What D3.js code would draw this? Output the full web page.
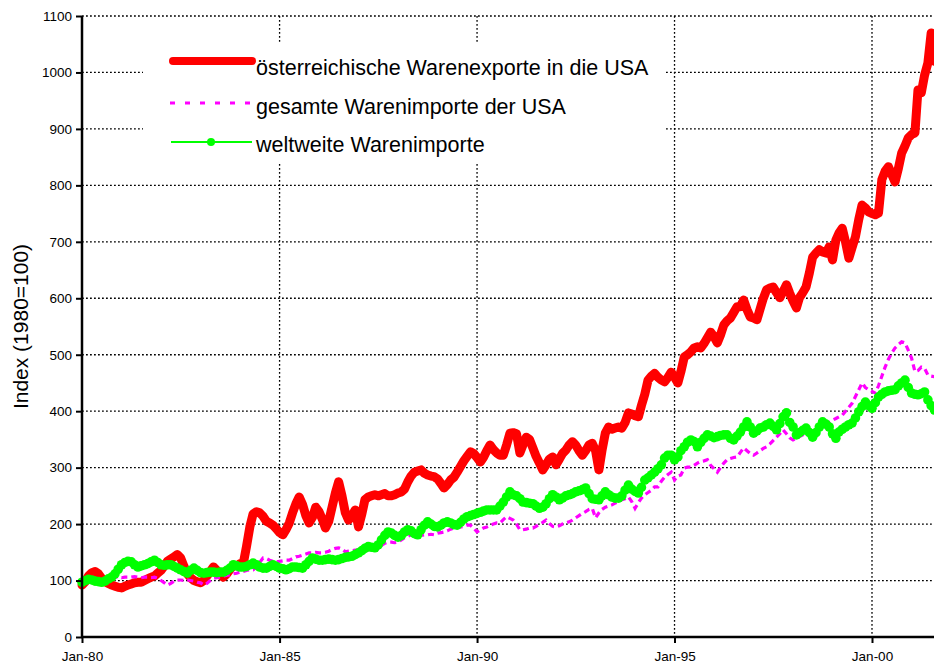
<!DOCTYPE html>
<html>
<head>
<meta charset="utf-8">
<script src="https://cdn.jsdelivr.net/npm/d3@7"></script>
<style>
    body { margin: 0; background: #fff; }
    svg text { font-family: "Liberation Sans", Arial, sans-serif; fill: #000; }
    .grid line { stroke: #000; stroke-width: 1.3; stroke-dasharray: 1.8, 2.2; }
</style>
</head>
<body>
<div id="chart-container"></div>
<script>
// Monatswerte ab Jan-80, Index 1980=100
const startMonth = new Date(1980, 0, 1);

const exportsAT = [
    92, 98, 108, 114, 116, 112, 104, 98, 95, 92, 90, 88,
    87, 90, 92, 94, 96, 97, 97, 100, 103, 106, 108, 113,
    118, 126, 134, 138, 142, 146, 140, 125, 112, 105, 100, 98,
    96, 100, 108, 116, 124, 118, 110, 106, 112, 120, 127, 126,
    130, 131, 160, 195, 218, 222, 220, 214, 205, 202, 198, 192,
    185, 181, 190, 202, 220, 236, 248, 235, 215, 202, 212, 230,
    222, 208, 193, 205, 230, 255, 275, 250, 220, 207, 215, 225,
    195, 218, 243, 248, 250, 252, 250, 252, 254, 250, 250, 252,
    255, 257, 262, 275, 285, 292, 294, 296, 290, 287, 285, 284,
    280, 272, 264, 270, 278, 283, 292, 302, 312, 320, 328, 325,
    318, 310, 318, 330, 340, 332, 326, 322, 322, 340, 361, 362,
    360, 326, 340, 354, 350, 335, 320, 308, 296, 305, 315, 319,
    305, 315, 325, 331, 340, 346, 340, 330, 322, 330, 340, 343,
    330, 296, 330, 361, 372, 368, 370, 372, 370, 380, 397, 395,
    392, 390, 410, 430, 455, 462, 467, 460, 455, 452, 460, 469,
    460, 450, 470, 496, 500, 505, 512, 514, 512, 520, 530, 540,
    532, 521, 535, 553, 560, 565, 575, 585, 585, 597, 580, 567,
    565, 562, 580, 600, 615, 618, 620, 610, 601, 612, 624, 609,
    595, 583, 601, 610, 620, 645, 673, 680, 686, 682, 680, 691,
    668, 703, 715, 724, 700, 671, 690, 709, 740, 765, 760, 753,
    750, 748, 751, 810, 825, 833, 820, 806, 830, 857, 870, 884,
    890, 893, 969, 964, 995, 1017, 1070, 1020
];

const importsUSA = [
    100, 101, 103, 104, 104, 103, 102, 103, 104, 105, 106, 106,
    105, 106, 106, 106, 107, 106, 105, 106, 106, 105, 106, 104,
    100, 96, 92, 95, 99, 101, 101, 100, 101, 100, 99, 97,
    96, 92, 95, 100, 104, 105, 106, 108, 109, 110, 112, 113,
    115, 116, 118, 119, 119, 124, 132, 140, 139, 136, 134, 133,
    134, 135, 136, 136, 139, 142, 143, 145, 147, 149, 149, 150,
    149, 149, 150, 152, 155, 157, 158, 156, 151, 152, 153, 154,
    154, 154, 155, 154, 154, 154, 156, 162, 166, 168, 168, 167,
    168, 172, 176, 178, 181, 181, 181, 180, 181, 181, 182, 181,
    184, 185, 186, 188, 191, 193, 194, 195, 196, 198, 198, 193,
    186, 190, 193, 195, 198, 200, 202, 202, 208, 213, 210, 207,
    200, 190, 190, 191, 193, 193, 196, 200, 203, 207, 201, 196,
    195, 197, 200, 202, 204, 207, 211, 215, 219, 222, 226, 228,
    211, 220, 226, 230, 232, 234, 237, 240, 243, 245, 248, 240,
    228, 238, 246, 252, 256, 260, 266, 266, 276, 283, 288, 292,
    278, 285, 287, 299, 301, 301, 304, 308, 311, 312, 314, 304,
    298, 292, 300, 308, 314, 316, 318, 319, 327, 335, 330, 325,
    322, 326, 330, 334, 337, 342, 348, 354, 360, 367, 360, 353,
    349, 352, 355, 358, 362, 364, 367, 369, 371, 372, 375, 380,
    384, 387, 390, 393, 400, 407, 414, 426, 438, 450, 442, 438,
    435, 432, 445, 462, 478, 492, 503, 512, 518, 523, 521, 508,
    494, 470, 472, 478, 476, 464, 462, 461
];

const importsWorld = [
    97, 100, 102, 101, 99, 98, 97, 99, 103, 106, 112, 120,
    128, 132, 134, 133, 128, 124, 126, 128, 130, 133, 136, 132,
    128, 127, 128, 128, 125, 122, 119, 116, 113, 118, 122, 118,
    114, 113, 114, 115, 115, 114, 115, 115, 118, 122, 128, 126,
    124, 124, 125, 128, 131, 128, 124, 122, 122, 125, 128, 125,
    122, 121, 119, 121, 124, 124, 123, 122, 128, 134, 140, 138,
    136, 136, 137, 138, 137, 136, 137, 139, 141, 142, 143, 146,
    149, 153, 157, 160, 159, 158, 163, 172, 180, 186, 184, 180,
    177, 180, 186, 190, 188, 183, 181, 190, 198, 204, 200, 196,
    195, 198, 202, 204, 202, 199, 198, 203, 209, 213, 215, 217,
    219, 221, 223, 225, 225, 225, 225, 232, 239, 248, 257, 252,
    250, 245, 239, 238, 237, 236, 232, 228, 230, 236, 245, 252,
    248, 243, 246, 250, 252, 254, 257, 259, 261, 264, 254, 245,
    244, 243, 250, 257, 252, 248, 246, 246, 250, 260, 269, 262,
    258, 255, 265, 278, 282, 287, 292, 298, 305, 317, 322, 322,
    314, 319, 330, 337, 345, 349, 346, 337, 345, 352, 358, 356,
    353, 355, 357, 358, 358, 352, 349, 356, 363, 372, 381, 372,
    361, 365, 370, 372, 376, 379, 373, 367, 378, 390, 397, 380,
    372, 358, 362, 366, 370, 362, 354, 362, 372, 381, 377, 372,
    360, 352, 363, 368, 372, 376, 379, 388, 399, 408, 416, 410,
    405, 415, 425, 430, 434, 436, 437, 438, 445, 450, 455, 442,
    432, 430, 429, 431, 434, 420, 410, 402
];

const yTicks = [0, 100, 200, 300, 400, 500, 600, 700, 800, 900, 1000, 1100];
const xTickYears = [1980, 1985, 1990, 1995, 2000];
const legendLabels = [
    "österreichische Warenexporte in die USA",
    "gesamte Warenimporte der USA",
    "weltweite Warenimporte"
];
const seriesColors = ["#ff0000", "#ff00ff", "#00ff00"];

const width = 934;
const height = 666;
const margin = { top: 16, right: 0, bottom: 29, left: 82 };

const svg = d3.select("#chart-container").append("svg")
    .attr("width", width)
    .attr("height", height);

// x: Jan-80 .. Jan-00 fix, Rest läuft rechts raus
const x = d3.scaleTime()
    .domain([new Date(1980, 0, 1), new Date(2000, 0, 1)])
    .range([margin.left, 872]);

const y = d3.scaleLinear()
    .domain([0, 1100])
    .range([height - margin.bottom, margin.top]);

const toPoints = arr => arr.map((v, i) => ({ date: d3.timeMonth.offset(startMonth, i), value: v }));
const series = [exportsAT, importsUSA, importsWorld].map(toPoints);

// grid
const grid = svg.append("g").attr("class", "grid");
grid.selectAll(".h")
    .data(yTicks.filter(d => d > 0))
    .enter().append("line")
    .attr("x1", margin.left).attr("x2", width)
    .attr("y1", d => y(d)).attr("y2", d => y(d));
grid.selectAll(".v")
    .data(xTickYears.filter(d => d > 1980))
    .enter().append("line")
    .attr("x1", d => x(new Date(d, 0, 1))).attr("x2", d => x(new Date(d, 0, 1)))
    .attr("y1", y(1100)).attr("y2", y(0));

// legend background hides the grid
svg.append("rect")
    .attr("x", 143).attr("y", 43)
    .attr("width", 522).attr("height", 121)
    .attr("fill", "#fff");

const line = d3.line()
    .x(d => x(d.date))
    .y(d => y(d.value));

svg.append("path")
    .datum(series[0])
    .attr("fill", "none")
    .attr("stroke", seriesColors[0])
    .attr("stroke-width", 9)
    .attr("stroke-linejoin", "round")
    .attr("stroke-linecap", "round")
    .attr("d", line);

svg.append("path")
    .datum(series[1])
    .attr("fill", "none")
    .attr("stroke", seriesColors[1])
    .attr("stroke-width", 3.2)
    .attr("stroke-dasharray", "6,4")
    .attr("d", line);

svg.append("path")
    .datum(series[2])
    .attr("fill", "none")
    .attr("stroke", seriesColors[2])
    .attr("stroke-width", 2)
    .attr("d", line);

svg.append("g")
    .selectAll("circle")
    .data(series[2])
    .enter().append("circle")
    .attr("cx", d => x(d.date))
    .attr("cy", d => y(d.value))
    .attr("r", 4.8)
    .attr("fill", seriesColors[2]);

// axes
const yAxis = d3.axisLeft(y)
    .tickValues(yTicks)
    .tickFormat(d3.format("d"))
    .tickSize(6)
    .tickPadding(4);
const gy = svg.append("g")
    .attr("transform", `translate(${margin.left},0)`)
    .call(yAxis);
gy.select(".domain").remove();
gy.selectAll("line").attr("stroke", "#000").attr("stroke-width", 2);
gy.selectAll("text").style("font-size", "13.5px");
svg.append("line")
    .attr("x1", margin.left).attr("x2", margin.left)
    .attr("y1", y(1100)).attr("y2", y(0) + 1)
    .attr("stroke", "#000").attr("stroke-width", 2.5);

const xAxis = d3.axisBottom(x)
    .tickValues(xTickYears.map(d => new Date(d, 0, 1)))
    .tickFormat(d3.timeFormat("%b-%y"))
    .tickSize(6)
    .tickPadding(8);
const gx = svg.append("g")
    .attr("transform", `translate(0,${y(0)})`)
    .call(xAxis);
gx.select(".domain").remove();
gx.selectAll("line").attr("stroke", "#000").attr("stroke-width", 2);
gx.selectAll("text").style("font-size", "13.5px");
svg.append("line")
    .attr("x1", margin.left - 1).attr("x2", width)
    .attr("y1", y(0)).attr("y2", y(0))
    .attr("stroke", "#000").attr("stroke-width", 2.5);

svg.append("text")
    .attr("transform", `translate(28,${(y(0) + y(1100)) / 2}) rotate(-90)`)
    .attr("text-anchor", "middle")
    .style("font-size", "21px")
    .text("Index (1980=100)");

// legend
const legendRows = [
    { lineY: 61, textY: 75 },
    { lineY: 103, textY: 114 },
    { lineY: 142, textY: 152 }
];
const legend = svg.append("g");
legend.append("line")
    .attr("x1", 173).attr("x2", 252)
    .attr("y1", legendRows[0].lineY).attr("y2", legendRows[0].lineY)
    .attr("stroke", seriesColors[0]).attr("stroke-width", 8)
    .attr("stroke-linecap", "round");
legend.append("line")
    .attr("x1", 170).attr("x2", 255)
    .attr("y1", legendRows[1].lineY).attr("y2", legendRows[1].lineY)
    .attr("stroke", seriesColors[1]).attr("stroke-width", 3)
    .attr("stroke-dasharray", "5,10");
legend.append("line")
    .attr("x1", 171).attr("x2", 252)
    .attr("y1", legendRows[2].lineY).attr("y2", legendRows[2].lineY)
    .attr("stroke", seriesColors[2]).attr("stroke-width", 2);
legend.append("circle")
    .attr("cx", 211).attr("cy", legendRows[2].lineY)
    .attr("r", 4).attr("fill", seriesColors[2]);
legend.selectAll("text")
    .data(legendLabels)
    .enter().append("text")
    .attr("x", 256)
    .attr("y", (d, i) => legendRows[i].textY)
    .style("font-size", "21.5px")
    .text(d => d);
</script>
</body>
</html>
